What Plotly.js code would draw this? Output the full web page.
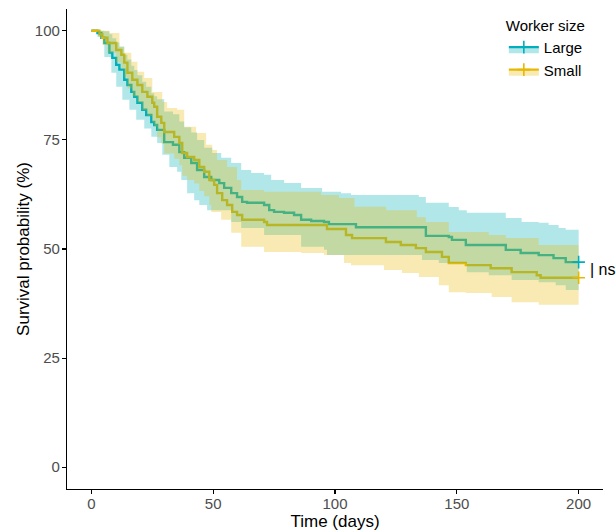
<!DOCTYPE html>
<html>
<head>
<meta charset="utf-8">
<script src="https://cdn.plot.ly/plotly-3.0.1.min.js"></script>
<style>html,body{margin:0;padding:0;background:#fff;}#chart{width:616px;height:531px;}</style>
</head>
<body>
<div id="chart"></div>
<script>
// ---- Data ----
var groups = ["Large", "Small"];
var lineColors = ["#00AFBB", "#E7B800"];
var bandColors = ["rgba(0,175,187,0.3)", "rgba(231,184,0,0.3)"];

var largeTime = [0, 2.5, 4.1, 5.3, 7.4, 8.6, 10.2, 11.5, 13.5, 14.8, 16.4, 17.6, 18.9, 20.9, 22.5, 24.6, 25.8, 27.0, 29.9, 33.5, 36.1, 38.1, 41.0, 43.4, 46.3, 49.2, 52.5, 54.5, 57.4, 59.8, 61.9, 63.9, 70.9, 73.0, 75.0, 79.1, 83.2, 86.1, 90.2, 95.5, 97.5, 108.6, 137.3, 146.7, 148.0, 153.7, 170.1, 176.2, 183.6, 189.7, 194.7, 200];
var largeSurv = [100, 99.5, 98.4, 97.2, 95.0, 93.8, 92.2, 91.1, 88.8, 87.6, 86.0, 84.9, 83.5, 81.9, 80.7, 79.1, 78.4, 77.3, 74.5, 73.9, 72.2, 70.9, 69.7, 68.1, 66.5, 65.8, 65.1, 64.0, 62.8, 61.9, 60.8, 60.6, 60.1, 58.9, 58.5, 58.3, 57.8, 56.7, 56.4, 56.2, 55.7, 55.0, 53.0, 52.75, 52.1, 50.9, 49.8, 49.1, 48.6, 47.9, 47.0, 47.0];

var largeUpperTime = [0, 5.3, 7.4, 8.6, 10.2, 11.5, 13.5, 14.8, 16.4, 17.6, 18.9, 20.9, 22.5, 24.6, 25.8, 27.0, 29.9, 33.5, 36.1, 38.1, 41.0, 43.4, 46.3, 49.6, 53.3, 57.4, 61.5, 65.6, 70.9, 73.8, 79.1, 86.1, 94.7, 102.5, 106.6, 134.4, 137.3, 146.7, 150.8, 154.1, 170.1, 176.6, 183.6, 187.7, 191.8, 194.7, 200];
var largeUpper = [100, 99.9, 99.2, 98.3, 97.3, 96.4, 94.5, 93.4, 92.0, 91.0, 89.8, 88.3, 87.2, 85.7, 85.0, 84.3, 81.5, 80.9, 79.2, 77.9, 76.7, 75.0, 73.2, 72.0, 70.9, 69.7, 68.1, 67.4, 67.0, 65.8, 65.1, 64.0, 63.1, 62.8, 62.4, 61.9, 60.6, 59.6, 58.9, 58.3, 57.1, 56.2, 56.0, 55.5, 54.8, 54.4, 54.4];

var largeLowerTime = [0, 2.5, 5.3, 8.2, 10.2, 12.7, 15.6, 18.4, 21.7, 24.6, 27.0, 29.1, 32.0, 35.2, 36.9, 39.3, 42.2, 44.3, 47.5, 57.4, 61.5, 70.9, 86.1, 95.5, 96.7, 135.7, 142.6, 154.1, 163.1, 172.5, 183.6, 190.6, 194.7, 200];
var largeLower = [100, 98.6, 94.0, 90.4, 87.2, 84.2, 81.9, 79.6, 77.6, 75.7, 74.3, 71.6, 68.8, 67.7, 65.8, 62.8, 61.2, 60.1, 58.9, 56.2, 54.8, 53.2, 50.5, 49.8, 48.6, 47.5, 46.8, 44.7, 44.0, 42.9, 42.4, 41.7, 40.6, 40.6];

var smallTime = [0, 3.3, 4.5, 6.6, 10.2, 12.3, 13.5, 14.8, 16.8, 18.9, 20.9, 23.0, 25.0, 25.8, 27.0, 28.7, 29.9, 34.0, 36.1, 37.3, 39.3, 42.2, 44.3, 46.3, 48.4, 50.4, 51.6, 53.7, 55.7, 57.8, 59.8, 61.9, 70.9, 72.1, 96.7, 104.5, 107.0, 120.9, 127.0, 133.2, 137.3, 143.9, 146.7, 153.7, 163.9, 172.5, 182.8, 184.4, 200];
var smallSurv = [100, 99.2, 98.4, 97.2, 95.6, 94.5, 92.7, 90.4, 88.8, 87.6, 86.0, 84.9, 83.5, 82.6, 80.3, 78.9, 76.8, 75.7, 74.3, 72.0, 71.1, 70.4, 68.8, 67.7, 65.8, 64.7, 62.8, 61.2, 60.1, 58.5, 57.8, 56.7, 56.2, 55.5, 54.6, 53.2, 52.5, 51.6, 50.9, 50.2, 49.3, 48.2, 46.8, 46.3, 45.6, 44.7, 44.0, 43.4, 43.4];

var smallUpperTime = [0, 7.4, 11.5, 13.5, 16.4, 18.9, 21.7, 25.0, 29.1, 31.1, 35.2, 38.1, 43.0, 47.1, 49.6, 51.6, 55.7, 59.8, 61.5, 70.9, 94.3, 101.6, 108.0, 121.0, 133.6, 137.3, 146.7, 163.1, 170.1, 183.6, 200];
var smallUpper = [100, 99.5, 96.3, 95.0, 92.9, 90.6, 89.2, 86.0, 83.7, 82.3, 81.9, 78.0, 76.6, 73.9, 72.7, 70.4, 68.8, 65.8, 63.5, 63.1, 62.4, 61.7, 59.7, 58.9, 57.3, 56.2, 53.9, 53.2, 52.5, 50.9, 50.9];

var smallLowerTime = [0, 3.3, 4.5, 6.6, 10.2, 12.3, 13.5, 14.8, 16.8, 18.9, 20.9, 23.0, 25.0, 25.8, 27.0, 28.7, 29.9, 34.0, 36.1, 37.3, 39.3, 42.2, 44.3, 46.3, 48.4, 49.2, 53.3, 57.4, 61.5, 70.9, 86.1, 95.5, 103.7, 106.6, 120.1, 127.5, 134.4, 142.6, 146.7, 153.7, 164.3, 172.5, 183.6, 200];
var smallLower = [100, 98.5, 96.8, 95.0, 92.8, 91.3, 89.3, 86.8, 85.0, 83.6, 81.8, 80.5, 79.0, 78.0, 75.6, 74.1, 71.9, 70.7, 69.2, 66.8, 65.8, 65.0, 63.3, 62.1, 60.1, 58.5, 56.7, 53.7, 50.5, 49.3, 49.1, 48.6, 46.8, 46.3, 45.2, 44.5, 43.6, 41.7, 40.1, 39.9, 39.0, 37.8, 37.2, 37.2];

var xTicks = [0, 50, 100, 150, 200];
var yTicks = [0, 25, 50, 75, 100];
var pLabel = "| ns";

// ---- Traces ----
var series = [
  {t: largeTime, s: largeSurv, ut: largeUpperTime, u: largeUpper, lt: largeLowerTime, l: largeLower},
  {t: smallTime, s: smallSurv, ut: smallUpperTime, u: smallUpper, lt: smallLowerTime, l: smallLower}
];
var traces = [];
// survival lines (drawn first, bands lie on top as in the reference)
series.forEach(function(d, i){
  traces.push({x: d.t, y: d.s, type: 'scatter', mode: 'lines', line: {shape: 'hv', color: lineColors[i], width: 2.4}, showlegend: false, hoverinfo: 'skip'});
});
// confidence bands
series.forEach(function(d, i){
  traces.push({x: d.lt, y: d.l, type: 'scatter', mode: 'lines', line: {shape: 'hv', width: 0, color: bandColors[i]}, showlegend: false, hoverinfo: 'skip'});
  traces.push({x: d.ut, y: d.u, type: 'scatter', mode: 'lines', fill: 'tonexty', fillcolor: bandColors[i], line: {shape: 'hv', width: 0, color: bandColors[i]}, showlegend: false, hoverinfo: 'skip'});
});
// censor marks at the end
series.forEach(function(d, i){
  var n = d.t.length - 1;
  traces.push({x: [d.t[n]], y: [d.s[n]], type: 'scatter', mode: 'markers', marker: {symbol: 'cross-thin-open', size: 9, color: lineColors[i], line: {color: lineColors[i], width: 1.6}}, showlegend: false, hoverinfo: 'skip', cliponaxis: false});
});
// legend entries
groups.forEach(function(g, i){
  traces.push({x: [null], y: [null], name: g, type: 'scatter', mode: 'lines+markers', fill: 'toself', fillcolor: bandColors[i], line: {color: lineColors[i], width: 2.4}, marker: {symbol: 'cross-thin-open', size: 9, color: lineColors[i], line: {color: lineColors[i], width: 1.6}}, showlegend: true});
});

var axisFont = {family: 'Liberation Sans, Arial, sans-serif', size: 15, color: '#4D4D4D'};
var layout = {
  width: 616, height: 531,
  margin: {l: 67, r: 13, t: 9, b: 42},
  paper_bgcolor: '#fff', plot_bgcolor: '#fff',
  font: {family: 'Liberation Sans, Arial, sans-serif', size: 15, color: '#000'},
  xaxis: {range: [-10, 210], tickvals: xTicks, ticktext: xTicks.map(String), showgrid: false, zeroline: false,
          showline: true, linecolor: '#000', linewidth: 1.1, ticks: 'outside', ticklen: 4, tickcolor: '#000', tickwidth: 1.1,
          ticklabelstandoff: -3,
          tickfont: axisFont, title: {text: 'Time (days)', font: {size: 17, color: '#000'}, standoff: 4}},
  yaxis: {range: [-5, 105], tickvals: yTicks, ticktext: yTicks.map(String), showgrid: false, zeroline: false,
          showline: true, linecolor: '#000', linewidth: 1.1, ticks: 'outside', ticklen: 4, tickcolor: '#000', tickwidth: 1.1,
          ticklabelstandoff: -1,
          tickfont: axisFont, title: {text: 'Survival probability (%)', font: {size: 17, color: '#000'}, standoff: 0}},
  legend: {x: 0.815, y: 0.995, xanchor: 'left', yanchor: 'top', bgcolor: 'rgba(0,0,0,0)', traceorder: 'normal',
           title: {text: 'Worker size', font: {size: 15, color: '#000'}}, font: {size: 15, color: '#000'},
           itemwidth: 30, tracegroupgap: 0},
  annotations: [{x: 200, y: 45.2, xref: 'x', yref: 'y', text: pLabel, showarrow: false, xanchor: 'left', xshift: 9,
                 font: {size: 16, color: '#000'}}],
  showlegend: true
};
Plotly.newPlot('chart', traces, layout, {displayModeBar: false, staticPlot: true});
</script>
</body>
</html>
